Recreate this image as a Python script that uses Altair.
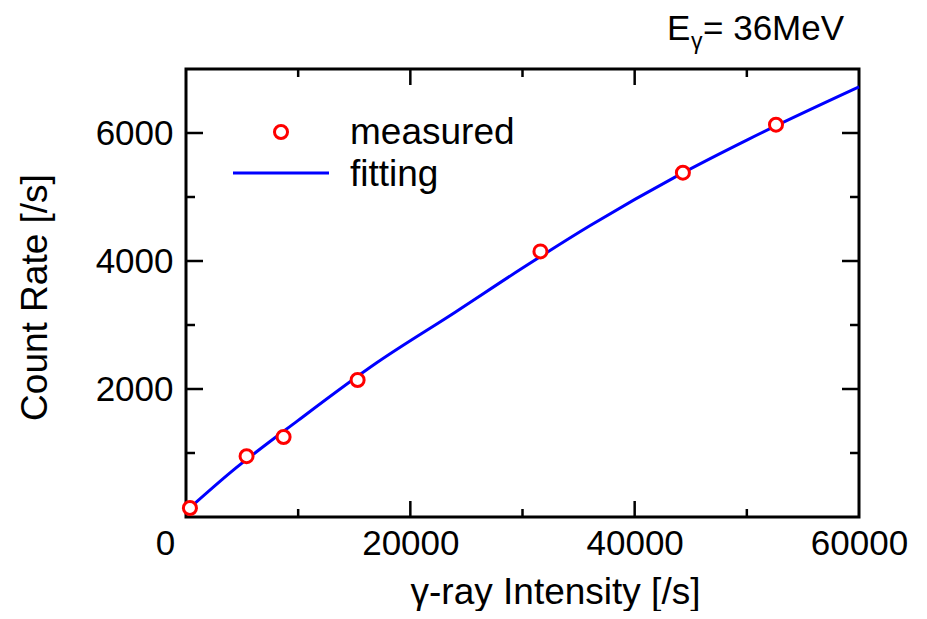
import altair as alt
import pandas as pd

# measured points
meas_x = [350, 5400, 8700, 15300, 31600, 44300, 52600]
meas_y = [140, 950, 1250, 2140, 4150, 5380, 6130]

# fitting curve
fit_x = [300, 4000, 10000, 17000, 24000, 30000, 36000, 44000, 50000, 60000]
fit_y = [136, 700, 1510, 2410, 3200, 3890, 4550, 5350, 5890, 6720]

x_label_values = [0, 20000, 40000, 60000]
y_label_values = [2000, 4000, 6000]
x_major_ticks = [20000, 40000]
x_minor_ticks = [10000, 30000, 50000]
y_major_ticks = [2000, 4000, 6000]
y_minor_ticks = [1000, 3000, 5000]

legend_labels = ["measured", "fitting"]
annot_parts = ["E", "\u03b3", "= 36MeV"]
x_title = "\u03b3-ray Intensity [/s]"
y_title = "Count Rate [/s]"

FONT = "Liberation Sans"
W, H = 673, 448

meas = pd.DataFrame({"x": meas_x, "y": meas_y})
fit = pd.DataFrame({"x": fit_x, "y": fit_y})

xs = alt.Scale(domain=[0, 60000], nice=False, zero=False)
ys = alt.Scale(domain=[0, 7000], nice=False, zero=False)

xaxis = alt.Axis(
    values=x_label_values, format="d", grid=False, domain=False, ticks=False, tickSize=0,
    labelFont=FONT, labelFontSize=35, labelColor="black", labelPadding=9, labelFlush=False,
    labelOffset={"condition": {"test": "datum.value === 0", "value": -21}, "value": 0},
    title=x_title, titleFont=FONT, titleFontSize=37, titleFontWeight="normal", titleColor="black",
    titleX=369, titleY=86, titleAlign="center", titleBaseline="alphabetic",
)
yaxis = alt.Axis(
    values=y_label_values, format="d", grid=False, domain=False, ticks=False, tickSize=0,
    labelFont=FONT, labelFontSize=35, labelColor="black", labelPadding=13,
    title=y_title, titleFont=FONT, titleFontSize=37, titleFontWeight="normal", titleColor="black",
    titleX=-140, titleY=228, titleAngle=-90, titleAlign="center", titleBaseline="alphabetic",
)

line = alt.Chart(fit).mark_line(color="#0000ff", strokeWidth=3, interpolate="monotone").encode(
    x=alt.X("x:Q", scale=xs, axis=xaxis),
    y=alt.Y("y:Q", scale=ys, axis=yaxis),
)
pts = alt.Chart(meas).mark_point(
    shape="circle", fill="white", fillOpacity=1, stroke="#ff0000", strokeWidth=3, size=170, opacity=1
).encode(
    x=alt.X("x:Q", scale=xs),
    y=alt.Y("y:Q", scale=ys),
)

def xticks(vals, length):
    d = pd.DataFrame({"v": vals})
    b = alt.Chart(d).mark_rule(color="black", strokeWidth=2.5).encode(
        x=alt.X("v:Q", scale=xs), y=alt.value(H), y2=alt.value(H - length))
    t = alt.Chart(d).mark_rule(color="black", strokeWidth=2.5).encode(
        x=alt.X("v:Q", scale=xs), y=alt.value(0), y2=alt.value(length))
    return [b, t]

def yticks(vals, length):
    d = pd.DataFrame({"v": vals})
    l = alt.Chart(d).mark_rule(color="black", strokeWidth=2.5).encode(
        y=alt.Y("v:Q", scale=ys), x=alt.value(0), x2=alt.value(length))
    r = alt.Chart(d).mark_rule(color="black", strokeWidth=2.5).encode(
        y=alt.Y("v:Q", scale=ys), x=alt.value(W), x2=alt.value(W - length))
    return [l, r]

ticks = xticks(x_major_ticks, 16) + xticks(x_minor_ticks, 8) + yticks(y_major_ticks, 17) + yticks(y_minor_ticks, 9)

one = pd.DataFrame({"a": [0]})
leg_pt = alt.Chart(one).mark_point(
    shape="circle", fill="white", fillOpacity=1, stroke="#ff0000", strokeWidth=3, size=170, opacity=1
).encode(x=alt.value(95), y=alt.value(63))
leg_line = alt.Chart(one).mark_rule(color="#0000ff", strokeWidth=3).encode(
    x=alt.value(47), x2=alt.value(143), y=alt.value(104))
leg_t1 = alt.Chart(one).mark_text(text=legend_labels[0], font=FONT, fontSize=37, align="left",
                                  baseline="alphabetic", color="black").encode(x=alt.value(164), y=alt.value(75))
leg_t2 = alt.Chart(one).mark_text(text=legend_labels[1], font=FONT, fontSize=37, align="left",
                                  baseline="alphabetic", color="black").encode(x=alt.value(164), y=alt.value(117))

an1 = alt.Chart(one).mark_text(text=annot_parts[0], font=FONT, fontSize=35, align="left",
                               baseline="alphabetic", color="black").encode(x=alt.value(481), y=alt.value(-29))
an2 = alt.Chart(one).mark_text(text=annot_parts[1], font=FONT, fontSize=23, align="left",
                               baseline="alphabetic", color="black").encode(x=alt.value(505), y=alt.value(-20))
an3 = alt.Chart(one).mark_text(text=annot_parts[2], font=FONT, fontSize=35, align="left",
                               baseline="alphabetic", color="black").encode(x=alt.value(517), y=alt.value(-29))

chart = alt.layer(
    line, pts, *ticks, leg_pt, leg_line, leg_t1, leg_t2, an1, an2, an3
).properties(
    width=W, height=H,
    background="white",
    autosize=alt.AutoSizeParams(type="none"),
    padding={"left": 178, "top": 61, "right": 55, "bottom": 94},
).configure_view(stroke="black", strokeWidth=3)

chart.save("out.html", embed_options={"renderer": "svg", "actions": False})
